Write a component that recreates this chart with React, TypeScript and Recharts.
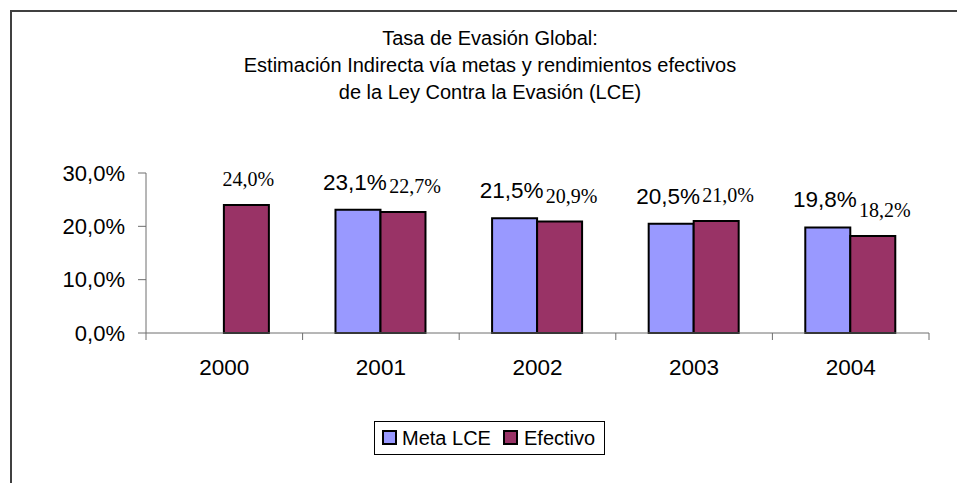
import React from 'react';
import { BarChart, Bar, XAxis, YAxis, LabelList, Legend } from 'recharts';

const categories = ['2000', '2001', '2002', '2003', '2004'];
const metaLCE: (number | null)[] = [null, 0.231, 0.215, 0.205, 0.198];
const efectivo: number[] = [0.24, 0.227, 0.209, 0.21, 0.182];
const yTicks = [0, 0.1, 0.2, 0.3];
const seriesNames = ['Meta LCE', 'Efectivo'];
const titleLines = [
  'Tasa de Evasión Global:',
  'Estimación Indirecta vía metas y rendimientos efectivos',
  'de la Ley Contra la Evasión (LCE)',
];

const data = categories.map((c, i) => ({ year: c, meta: metaLCE[i], efectivo: efectivo[i] }));

const W = 957;
const H = 483;
const M_LEFT = 66;
const Y_W = 80;
const M_RIGHT = 28;
const M_TOP = 173;
const X_H = 30;
const M_BOTTOM = 120;
const BAND = (W - M_LEFT - Y_W - M_RIGHT) / categories.length;

const SANS = '"Liberation Sans", Arial, sans-serif';
const SERIF = '"Liberation Serif", "Times New Roman", serif';
const AXIS = '#6e6e6e';
const META_COLOR = '#9999FF';
const EF_COLOR = '#993366';

const fmt = (v: number) => (v * 100).toFixed(1).replace('.', ',') + '%';

const XTick = (props: any) => {
  const { x, y, payload, index } = props;
  const half = BAND / 2;
  return (
    <g>
      <line x1={x - half} y1={y} x2={x - half} y2={y + 7} stroke={AXIS} />
      {index === categories.length - 1 && (
        <line x1={x + half} y1={y} x2={x + half} y2={y + 7} stroke={AXIS} />
      )}
      <text x={x} y={y + 42} textAnchor="middle" fontFamily={SANS} fontSize={22.5} fill="#000">
        {payload.value}
      </text>
    </g>
  );
};

const MetaLabel = (props: any) => {
  const { x, y, width, value } = props;
  if (value == null) return null;
  return (
    <text x={x + width / 2 - 3} y={y - 20} textAnchor="middle" fontFamily={SANS} fontSize={22.5} fill="#000">
      {fmt(value)}
    </text>
  );
};

const EfLabel = (props: any) => {
  const { x, y, width, value, index } = props;
  if (value == null) return null;
  const dx = metaLCE[index] == null ? 2 : 12;
  return (
    <text x={x + width / 2 + dx} y={y - 19} textAnchor="middle" fontFamily={SERIF} fontSize={20} fill="#000">
      {fmt(value)}
    </text>
  );
};

const LegendBox = () => {
  const colors = [META_COLOR, EF_COLOR];
  const sqLeft = [7, 128];
  const txtLeft = [27, 149];
  return (
    <div
      style={{
        position: 'relative',
        width: 231,
        height: 34,
        border: '1px solid #000',
        boxSizing: 'border-box',
        background: '#fff',
      }}
    >
      {seriesNames.map((n, i) => (
        <React.Fragment key={n}>
          <div
            style={{
              position: 'absolute',
              left: sqLeft[i],
              top: 8,
              width: 15,
              height: 15,
              boxSizing: 'border-box',
              border: '2px solid #000',
              background: colors[i],
            }}
          />
          <div
            style={{
              position: 'absolute',
              left: txtLeft[i],
              top: 0,
              lineHeight: '32px',
              fontFamily: SANS,
              fontSize: 20,
              color: '#000',
              whiteSpace: 'nowrap',
            }}
          >
            {n}
          </div>
        </React.Fragment>
      ))}
    </div>
  );
};

export default function App() {
  return (
    <div style={{ position: 'absolute', left: 0, top: 0, width: W, height: H, background: '#fff', overflow: 'hidden' }}>
      <div
        style={{
          position: 'absolute',
          left: 10,
          top: 10,
          width: W - 10,
          height: H - 10,
          borderTop: '2px solid #404040',
          borderLeft: '2px solid #404040',
          boxSizing: 'border-box',
        }}
      />
      <div
        style={{
          position: 'absolute',
          left: 0,
          top: 25,
          width: 980,
          textAlign: 'center',
          fontFamily: SANS,
          fontSize: 20,
          lineHeight: '27px',
          color: '#000',
        }}
      >
        {titleLines.map((t) => (
          <div key={t}>{t}</div>
        ))}
      </div>
      <div style={{ position: 'absolute', left: 0, top: 0 }}>
        <BarChart
          width={W}
          height={H}
          data={data}
          margin={{ top: M_TOP, right: M_RIGHT, bottom: M_BOTTOM, left: M_LEFT }}
          barCategoryGap="21%"
          barGap={0}
        >
          <XAxis
            dataKey="year"
            height={X_H}
            axisLine={{ stroke: AXIS }}
            tickLine={false}
            tickSize={0}
            tickMargin={0}
            tick={<XTick />}
            interval={0}
          />
          <YAxis
            width={Y_W}
            domain={[0, 0.3]}
            ticks={yTicks}
            tickFormatter={fmt}
            axisLine={{ stroke: AXIS }}
            tickLine={{ stroke: AXIS }}
            tickSize={8}
            tickMargin={13}
            tick={{ fill: '#000', fontSize: 22, fontFamily: SANS }}
            interval={0}
          />
          <Legend
            layout="horizontal"
            verticalAlign="middle"
            align="center"
            wrapperStyle={{ left: 374, top: 421, width: 231, height: 34 }}
            content={() => <LegendBox />}
          />
          <Bar dataKey="meta" name={seriesNames[0]} fill={META_COLOR} stroke="#000" strokeWidth={2} isAnimationActive={false}>
            <LabelList dataKey="meta" content={<MetaLabel />} />
          </Bar>
          <Bar dataKey="efectivo" name={seriesNames[1]} fill={EF_COLOR} stroke="#000" strokeWidth={2} isAnimationActive={false}>
            <LabelList dataKey="efectivo" content={<EfLabel />} />
          </Bar>
        </BarChart>
      </div>
    </div>
  );
}
